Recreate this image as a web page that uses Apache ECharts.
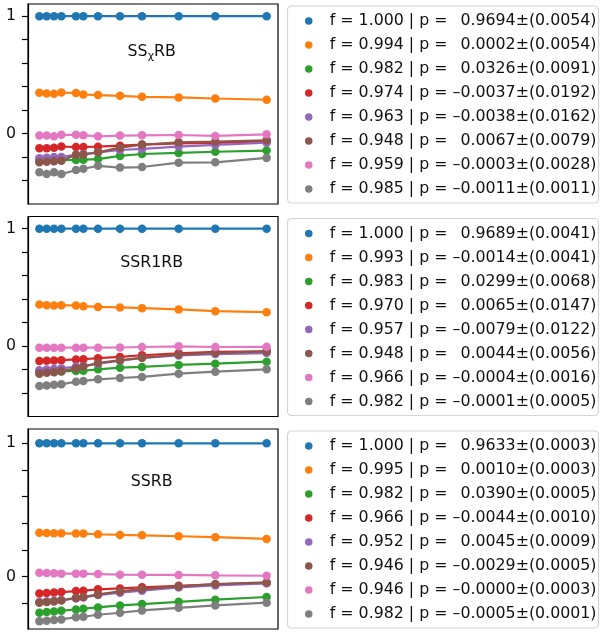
<!DOCTYPE html>
<html>
<head>
<meta charset="utf-8">
<script src="https://cdn.jsdelivr.net/npm/echarts@6/dist/echarts.min.js"></script>
<style>
  html, body { margin: 0; padding: 0; background: #fff; }
  #chart { width: 600px; height: 633px; }
</style>
</head>
<body>
<div id="chart"></div>
<script>
// x positions (sequence lengths)
const xs = [1, 2, 3, 4, 6, 7, 9, 12, 15, 20, 25, 32]

const colors = ['#1f77b4', '#ff7f0e', '#2ca02c', '#d62728', '#9467bd', '#8c564b', '#e377c2', '#7f7f7f']

// panel 1: SSχRB
const chiRB = [
  [1, 1, 1, 1, 1, 1, 1, 1, 1, 1, 1, 1],
  [0.348, 0.342, 0.339, 0.350, 0.345, 0.333, 0.328, 0.322, 0.313, 0.308, 0.299, 0.288],
  [-0.235, -0.232, -0.228, -0.226, -0.225, -0.222, -0.217, -0.19, -0.174, -0.165, -0.155, -0.145],
  [-0.125, -0.124, -0.12, -0.11, -0.115, -0.114, -0.112, -0.103, -0.094, -0.083, -0.08, -0.065],
  [-0.211, -0.205, -0.2, -0.2, -0.18, -0.175, -0.16, -0.14, -0.131, -0.111, -0.097, -0.078],
  [-0.245, -0.24, -0.235, -0.232, -0.18, -0.178, -0.16, -0.12, -0.095, -0.074, -0.068, -0.057],
  [-0.017, -0.017, -0.022, -0.011, -0.011, -0.015, -0.023, -0.017, -0.015, -0.012, -0.02, -0.006],
  [-0.33, -0.345, -0.33, -0.345, -0.31, -0.3, -0.275, -0.29, -0.285, -0.248, -0.245, -0.207]
]
const chiF = ['1.000', '0.994', '0.982', '0.974', '0.963', '0.948', '0.959', '0.985']
const chiP = ['0.9694', '0.0002', '0.0326', '–0.0037', '–0.0038', '0.0067', '–0.0003', '–0.0011']
const chiErr = ['0.0054', '0.0054', '0.0091', '0.0192', '0.0162', '0.0079', '0.0028', '0.0011']

// panel 2: SSR1RB
const r1RB = [
  [1, 1, 1, 1, 1, 1, 1, 1, 1, 1, 1, 1],
  [0.354, 0.348, 0.346, 0.348, 0.346, 0.340, 0.334, 0.329, 0.323, 0.312, 0.297, 0.289],
  [-0.222, -0.22, -0.218, -0.216, -0.212, -0.21, -0.198, -0.184, -0.178, -0.161, -0.15, -0.133],
  [-0.127, -0.125, -0.123, -0.12, -0.114, -0.112, -0.103, -0.092, -0.078, -0.062, -0.05, -0.045],
  [-0.207, -0.2, -0.195, -0.19, -0.175, -0.17, -0.15, -0.125, -0.1, -0.08, -0.068, -0.06],
  [-0.235, -0.228, -0.222, -0.215, -0.19, -0.175, -0.145, -0.12, -0.1, -0.072, -0.058, -0.045],
  [-0.014, -0.014, -0.014, -0.014, -0.014, -0.014, -0.014, -0.012, -0.008, -0.002, -0.008, -0.006],
  [-0.34, -0.335, -0.33, -0.326, -0.303, -0.297, -0.283, -0.272, -0.263, -0.235, -0.218, -0.198]
]
const r1F = ['1.000', '0.993', '0.983', '0.970', '0.957', '0.948', '0.966', '0.982']
const r1P = ['0.9689', '–0.0014', '0.0299', '0.0065', '–0.0079', '0.0044', '–0.0004', '–0.0001']
const r1Err = ['0.0041', '0.0041', '0.0068', '0.0147', '0.0122', '0.0056', '0.0016', '0.0005']

// panel 3: SSRB
const ssRB = [
  [1, 1, 1, 1, 1, 1, 1, 1, 1, 1, 1, 1],
  [0.33, 0.328, 0.326, 0.325, 0.323, 0.323, 0.318, 0.313, 0.31, 0.303, 0.296, 0.283],
  [-0.27, -0.265, -0.26, -0.255, -0.245, -0.24, -0.23, -0.215, -0.205, -0.188, -0.172, -0.152],
  [-0.125, -0.123, -0.118, -0.115, -0.108, -0.105, -0.095, -0.088, -0.08, -0.068, -0.058, -0.047],
  [-0.19, -0.186, -0.18, -0.175, -0.163, -0.155, -0.138, -0.12, -0.105, -0.08, -0.065, -0.05],
  [-0.195, -0.19, -0.185, -0.178, -0.158, -0.153, -0.133, -0.11, -0.093, -0.073, -0.055, -0.043],
  [0.03, 0.028, 0.025, 0.023, 0.023, 0.023, 0.02, 0.015, 0.014, 0.013, 0.01, 0.007],
  [-0.333, -0.33, -0.325, -0.32, -0.303, -0.3, -0.285, -0.27, -0.253, -0.233, -0.215, -0.195]
]
const ssF = ['1.000', '0.995', '0.982', '0.966', '0.952', '0.946', '0.946', '0.982']
const ssP = ['0.9633', '0.0010', '0.0390', '–0.0044', '0.0045', '–0.0029', '–0.0000', '–0.0005']
const ssErr = ['0.0003', '0.0003', '0.0005', '0.0010', '0.0009', '0.0005', '0.0003', '0.0001']

const yTicks = [-0.4, -0.2, 0, 0.2, 0.4, 0.6, 0.8, 1]
const yLabels = [0, 1]

const font = 'DejaVu Sans'

const panels = [
  { vals: chiRB, f: chiF, p: chiP, e: chiErr, top: 4, ymin: -0.6, ymax: 1.104, legTop: 6, title: '{n|SS}{s|χ}{n|RB}', ty: 51.7 },
  { vals: r1RB, f: r1F, p: r1P, e: r1Err, top: 216.5, ymin: -0.6, ymax: 1.104, legTop: 218.5, title: '{n|SSR1RB}', ty: 263.3 },
  { vals: ssRB, f: ssF, p: ssP, e: ssErr, top: 429, ymin: -0.392, ymax: 1.107, legTop: 431, title: '{n|SSRB}', ty: 482.3 }
]

function label(f, p, e) {
  let pp = p.startsWith('–') ? p : '\u2002' + p
  return 'f = ' + f + ' | p = ' + pp + '±(' + e + ')'
}

let grid = [], xAxis = [], yAxis = [], series = [], legend = [], graphic = []

panels.forEach((pan, i) => {
  grid.push({ left: 28, top: pan.top, width: 250, height: 200, show: true, borderColor: '#000', borderWidth: 1.2 })
  xAxis.push({
    type: 'value', gridIndex: i, min: -0.55, max: 33.55,
    axisLabel: { show: false }, axisTick: { show: false }, splitLine: { show: false }, axisLine: { show: false }
  })
  yAxis.push({
    type: 'value', gridIndex: i, min: pan.ymin, max: pan.ymax,
    splitLine: { show: false },
    axisLine: { show: true, onZero: false, lineStyle: { color: '#000', width: 1.2 } },
    axisTick: { show: true, length: 6, customValues: yTicks, lineStyle: { color: '#000', width: 1.2 } },
    axisLabel: { customValues: yLabels, fontSize: 15.8, color: '#111', margin: 12, fontFamily: font }
  })
  let names = []
  pan.vals.forEach((v, k) => {
    let name = label(pan.f[k], pan.p[k], pan.e[k])
    names.push(name)
    series.push({
      name: name,
      type: 'line',
      xAxisIndex: i, yAxisIndex: i,
      data: xs.map((x, j) => [x, v[j]]),
      symbol: 'circle', symbolSize: 8.5,
      color: colors[k],
      lineStyle: { width: 2.2, color: colors[k] },
      itemStyle: { color: colors[k] },
      emphasis: { disabled: true }
    })
  })
  legend.push({
    data: names,
    orient: 'vertical',
    left: 287.5, top: pan.legTop,
    icon: 'circle',
    itemWidth: 32, itemHeight: 7.5,
    itemGap: 8,
    padding: [7, 2, 6, 17.5],
    selectedMode: false,
    backgroundColor: '#fff',
    borderColor: '#d4d4d4', borderWidth: 1.2, borderRadius: 4,
    textStyle: { fontSize: 15.8, lineHeight: 16, color: '#111', fontFamily: font }
  })
  graphic.push({
    type: 'text', x: 151.7, y: pan.ty,
    style: {
      text: pan.title,
      align: 'center', verticalAlign: 'middle',
      rich: {
        n: { fontSize: 15.8, fontFamily: font, fill: '#111', color: '#111' },
        s: { fontSize: 11, fontFamily: font, fill: '#111', color: '#111', padding: [8, 0, 0, 0] }
      }
    }
  })
})

let myChart = echarts.init(document.getElementById('chart'))
myChart.setOption({
  animation: false,
  grid: grid,
  xAxis: xAxis,
  yAxis: yAxis,
  legend: legend,
  graphic: graphic,
  series: series
})
</script>
</body>
</html>
